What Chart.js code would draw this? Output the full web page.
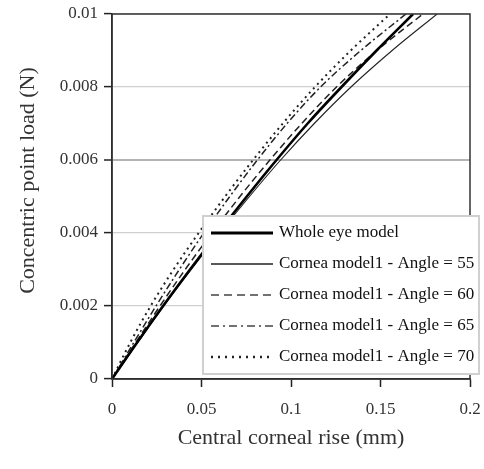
<!DOCTYPE html>
<html><head><meta charset="utf-8">
<script src="https://cdn.jsdelivr.net/npm/chart.js@4/dist/chart.umd.min.js"></script>
<style>html,body{margin:0;padding:0;background:#fff;}</style>
</head><body>
<canvas id="c" width="484" height="469" style="width:484px;height:469px;display:block"></canvas>
<script>
// Concentric point load (N) - y values shared by every series
const loads = [0, 0.001, 0.002, 0.003, 0.004, 0.005, 0.006, 0.007, 0.008, 0.009, 0.01];
// Central corneal rise (mm) for each series
const riseWholeEye = [0, 0.0140, 0.0285, 0.0436, 0.0592, 0.0753, 0.0919, 0.1093, 0.1282, 0.1478, 0.1682];
const riseAngle55  = [0, 0.0144, 0.0290, 0.0443, 0.0602, 0.0768, 0.0942, 0.1130, 0.1335, 0.1565, 0.1816];
const riseAngle60  = [0, 0.0133, 0.0268, 0.0409, 0.0558, 0.0715, 0.0882, 0.1060, 0.1254, 0.1480, 0.1737];
const riseAngle65  = [0, 0.0122, 0.0246, 0.0376, 0.0513, 0.0658, 0.0812, 0.0978, 0.1165, 0.1390, 0.1642];
const riseAngle70  = [0, 0.0102, 0.0216, 0.0344, 0.0484, 0.0632, 0.0788, 0.0954, 0.1134, 0.1334, 0.1553];
const seriesNames = ['Whole eye model', 'Cornea model1 - Angle = 55', 'Cornea model1 - Angle = 60', 'Cornea model1 - Angle = 65', 'Cornea model1 - Angle = 70'];
const xTickLabels = ['0', '0.05', '0.1', '0.15', '0.2'];
const yTickLabels = ['0', '0.002', '0.004', '0.006', '0.008', '0.01'];
const xTitle = 'Central corneal rise (mm)';
const yTitle = 'Concentric point load (N)';

const serif = "'Liberation Serif', 'DejaVu Serif', serif";
const toPts = arr => arr.map((x, i) => ({x: x, y: loads[i]}));

const styles = [
  {color: '#000', width: 2.6, dash: [], lw: 3, ldash: []},
  {color: '#222', width: 1.1, dash: [], lw: 1.3, ldash: []},
  {color: '#222', width: 1.5, dash: [7, 4], lw: 1.5, ldash: [8, 5]},
  {color: '#222', width: 1.5, dash: [7, 3, 2, 3], lw: 1.5, ldash: [8, 4, 2, 4]},
  {color: '#222', width: 2, dash: [2, 4], lw: 2.5, ldash: [2, 5]}
];
const seriesData = [riseWholeEye, riseAngle55, riseAngle60, riseAngle65, riseAngle70];

const datasets = seriesData.map((arr, i) => ({
  label: seriesNames[i],
  data: toPts(arr),
  showLine: true,
  borderColor: styles[i].color,
  borderWidth: styles[i].width,
  borderDash: styles[i].dash,
  pointRadius: 0,
  cubicInterpolationMode: 'monotone',
  fill: false,
  order: i
}));

const boxPlugin = {
  id: 'box',
  afterDatasetsDraw(chart) {
    const a = chart.chartArea, ctx = chart.ctx;
    ctx.save();
    ctx.strokeStyle = '#333';
    ctx.lineWidth = 1.5;
    ctx.strokeRect(a.left, a.top, a.right - a.left, a.bottom - a.top);
    ctx.restore();
  }
};

const yTitlePlugin = {
  id: 'yTitle',
  afterDraw(chart) {
    const a = chart.chartArea, ctx = chart.ctx;
    ctx.save();
    ctx.translate(a.left - 84, (a.top + a.bottom) / 2 - 16);
    ctx.rotate(-Math.PI / 2);
    ctx.font = "22px " + serif;
    ctx.fillStyle = '#333';
    ctx.textAlign = 'center';
    ctx.textBaseline = 'middle';
    ctx.fillText(yTitle, 0, 0);
    ctx.restore();
  }
};

const legendPlugin = {
  id: 'customLegend',
  afterDraw(chart) {
    const a = chart.chartArea, ctx = chart.ctx;
    const bx = a.left + 91, by = a.top + 202, bw = 276, bh = 158;
    ctx.save();
    ctx.fillStyle = '#fff';
    ctx.fillRect(bx, by, bw, bh);
    ctx.strokeStyle = '#d0d0d0';
    ctx.lineWidth = 2;
    ctx.strokeRect(bx, by, bw, bh);
    ctx.font = "17px " + serif;
    ctx.textBaseline = 'middle';
    ctx.fillStyle = '#111';
    seriesNames.forEach((name, i) => {
      const y = by + 17 + i * 31;
      ctx.beginPath();
      ctx.setLineDash(styles[i].ldash);
      ctx.strokeStyle = i >= 2 && i <= 3 ? '#444' : styles[i].color;
      ctx.lineWidth = styles[i].lw;
      ctx.moveTo(bx + 8, y);
      ctx.lineTo(bx + 70, y);
      ctx.stroke();
      ctx.setLineDash([]);
      ctx.fillText(name, bx + 76, y);
    });
    ctx.restore();
  }
};

new Chart(document.getElementById('c'), {
  type: 'scatter',
  data: {datasets: datasets},
  options: {
    responsive: false,
    animation: false,
    layout: {padding: {top: 14, right: 14, bottom: 18, left: 18}},
    plugins: {legend: {display: false}, tooltip: {enabled: false}},
    scales: {
      x: {
        type: 'linear', min: 0, max: 0.2,
        afterFit: s => { s.height = 72; s.paddingLeft = 0; s.paddingRight = 0; },
        ticks: {stepSize: 0.05, color: '#333', font: {family: serif, size: 17}, padding: 12,
          callback: (v, i) => xTickLabels[i]},
        grid: {drawOnChartArea: false, drawTicks: true, tickLength: 8, tickColor: '#222', tickWidth: 1.5},
        border: {color: '#222', width: 1.5},
        title: {display: true, text: xTitle, color: '#333', font: {family: serif, size: 22}, padding: {top: 4, bottom: 0}}
      },
      y: {
        type: 'linear', min: 0, max: 0.01,
        afterFit: s => { s.width = 94; s.paddingTop = 0; s.paddingBottom = 0; },
        ticks: {stepSize: 0.002, color: '#333', font: {family: serif, size: 17}, padding: 6,
          callback: (v, i) => yTickLabels[i]},
        grid: {
          drawTicks: true, tickLength: 8, tickColor: '#222', tickWidth: 1.5,
          color: c => (c.tick && Math.abs(c.tick.value - 0.006) < 1e-9) ? '#b4b4b4' : '#d0d0d0',
          lineWidth: c => (c.tick && Math.abs(c.tick.value - 0.006) < 1e-9) ? 2 : 1.2
        },
        border: {color: '#222', width: 1.5},
        title: {display: false}
      }
    }
  },
  plugins: [boxPlugin, yTitlePlugin, legendPlugin]
});
</script>
</body></html>
